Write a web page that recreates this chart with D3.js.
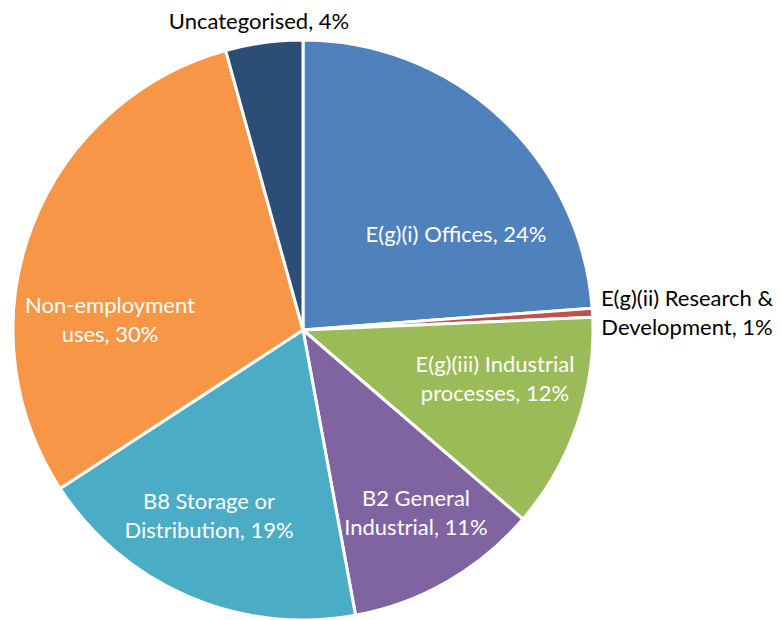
<!DOCTYPE html>
<html>
<head>
<meta charset="utf-8">
<script src="https://cdn.jsdelivr.net/npm/d3@7"></script>
<style>
  body { margin: 0; background: #fff; }
  svg text { font-family: Lato, "Open Sans", sans-serif; }
</style>
</head>
<body>
<div class="container"></div>
<script>
// pie of floorspace by use class, clockwise from 12 o'clock
var categories = [
    "E(g)(i) Offices",
    "E(g)(ii) Research & Development",
    "E(g)(iii) Industrial processes",
    "B2 General Industrial",
    "B8 Storage or Distribution",
    "Non-employment uses",
    "Uncategorised"
];
var shares = [23.8, 0.5, 12.0, 10.8, 18.7, 29.9, 4.3];
var colours = ["#4f81bd", "#c0504d", "#9bbb59", "#8064a2", "#4bacc6", "#f79646", "#2c4d75"];

// how each label is broken into lines
var labelLines = [
    ["E(g)(i) Offices, {p}"],
    ["E(g)(ii) Research &", "Development, {p}"],
    ["E(g)(iii) Industrial", "processes, {p}"],
    ["B2 General", "Industrial, {p}"],
    ["B8 Storage or", "Distribution, {p}"],
    ["Non-employment", "uses, {p}"],
    ["Uncategorised, {p}"]
];
// label anchor offsets from the pie centre (best-fit placement)
var labelOffsets = [
    [153, -88], [384, -24], [192, 42], [113, 176], [-94, 179], [-193, -17], [-44, -301]
];
var outside = [false, true, false, false, false, false, true];

var width = 781;
var height = 620;
var cx = 303, cy = 330, radius = 290;
var lineHeight = 29;

var svg = d3.select(".container")
    .append("svg")
    .attr("width", width)
    .attr("height", height);

var data = categories.map(function(c, i)
{
    return {name: c, value: shares[i], i: i};
});

var pie = d3.pie()
    .sort(null)
    .value(function(d) { return d.value; });

var arc = d3.arc()
    .innerRadius(0)
    .outerRadius(radius);

var g = svg.append("g")
    .attr("transform", "translate(" + cx + "," + cy + ")");

g.selectAll("path.slice")
    .data(pie(data))
    .enter()
    .append("path")
    .attr("class", "slice")
    .attr("d", arc)
    .style("fill", function(d) { return colours[d.data.i]; })
    .style("stroke", "#fff")
    .style("stroke-width", 3)
    .style("stroke-linejoin", "round");

var labels = g.selectAll("text.label")
    .data(data)
    .enter()
    .append("text")
    .attr("class", "label")
    .attr("text-anchor", "middle")
    .attr("x", function(d) { return labelOffsets[d.i][0]; })
    .attr("y", function(d) { return labelOffsets[d.i][1]; })
    .style("font-size", "22px")
    .style("fill", function(d) { return outside[d.i] ? "#000" : "#fff"; });

labels.each(function(d)
{
    var t = d3.select(this);
    var pct = Math.round(d.value) + "%";
    labelLines[d.i].forEach(function(line, k)
    {
        t.append("tspan")
            .attr("x", labelOffsets[d.i][0])
            .attr("dy", k === 0 ? 0 : lineHeight)
            .text(line.replace("{p}", pct));
    });
});
</script>
</body>
</html>
